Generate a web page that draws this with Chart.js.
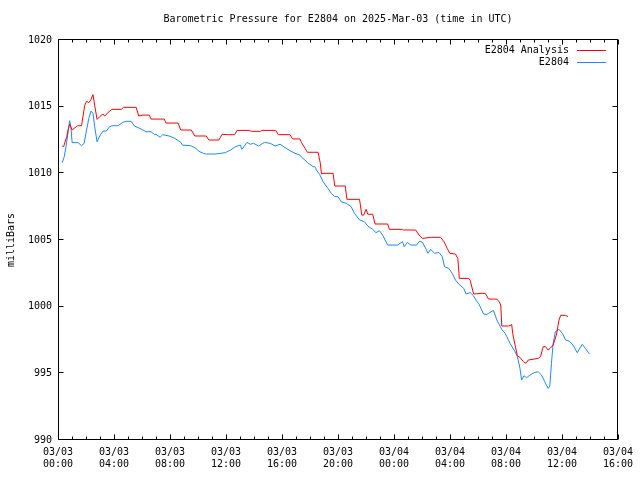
<!DOCTYPE html>
<html><head><meta charset="utf-8">
<script src="https://cdn.jsdelivr.net/npm/chart.js@4"></script>
<style>html,body{margin:0;padding:0;background:#fff}canvas{display:block}</style>
</head><body>
<canvas id="c" width="640" height="480"></canvas>
<script>
// hours since 2025-03-03 00:00 UTC
const analysisHours = [0.30,0.40,0.62,0.73,0.83,1.01,1.40,1.68,1.91,2.04,2.20,2.34,2.50,2.62,2.79,2.98,3.21,3.33,3.57,3.85,4.52,4.68,5.58,5.77,6.05,6.52,6.65,7.59,7.71,8.58,8.77,9.52,9.77,10.59,10.78,11.49,11.72,12.13,12.62,12.79,13.69,13.81,14.47,14.56,15.55,15.74,16.57,16.76,17.28,17.40,17.64,17.82,18.58,18.74,18.82,18.94,19.65,19.77,20.52,20.64,21.54,21.70,21.84,22.01,22.13,22.48,22.65,23.55,23.67,24.61,24.68,25.55,25.79,26.03,26.62,27.33,27.57,27.80,27.99,28.39,28.56,28.67,29.34,29.45,29.69,30.28,30.52,30.76,31.35,31.51,31.63,31.70,32.18,32.36,32.41,32.48,32.65,32.82,33.00,33.24,33.43,33.60,34.30,34.47,34.66,34.82,35.01,35.18,35.37,35.60,35.79,35.91,36.26,36.43];
const analysisValues = [1012.05,1012.0,1012.75,1013.3,1013.68,1013.25,1013.57,1013.57,1015.1,1015.4,1015.3,1015.5,1015.9,1015.1,1014.05,1014.25,1014.45,1014.3,1014.55,1014.8,1014.8,1014.95,1014.95,1014.3,1014.37,1014.37,1014.07,1014.07,1013.77,1013.77,1013.25,1013.25,1012.8,1012.8,1012.5,1012.5,1012.93,1012.9,1012.9,1013.22,1013.22,1013.15,1013.15,1013.22,1013.22,1012.9,1012.9,1012.58,1012.58,1012.3,1011.88,1011.58,1011.58,1010.75,1009.95,1010.0,1010.0,1009.05,1009.05,1008.05,1008.05,1006.87,1006.87,1007.3,1006.93,1006.93,1006.2,1006.2,1005.8,1005.8,1005.75,1005.75,1005.37,1005.12,1005.2,1005.2,1004.88,1004.38,1004.0,1003.95,1003.62,1002.12,1002.12,1001.95,1000.95,1001.0,1001.0,1000.57,1000.57,1000.37,1000.12,998.55,998.55,998.62,998.67,998.0,997.12,996.3,996.2,995.88,995.75,996.0,996.12,996.25,997.0,997.0,996.75,996.9,997.12,997.87,999.0,999.35,999.35,999.25];
const stationHours = [0.30,0.45,0.57,0.69,0.83,0.92,1.01,1.44,1.68,1.87,2.04,2.20,2.36,2.50,2.62,2.79,2.98,3.21,3.45,3.69,3.85,4.28,4.63,4.87,5.23,5.46,5.94,6.29,6.65,6.88,7.00,7.30,7.47,7.94,8.35,8.77,8.89,9.48,9.84,10.07,10.38,10.55,11.26,11.96,12.32,12.67,13.03,13.14,13.50,13.74,13.97,14.33,14.75,15.16,15.51,15.87,16.22,16.57,16.93,17.28,17.40,17.64,17.87,17.99,18.23,18.35,18.46,18.70,18.94,19.29,19.52,19.77,20.00,20.23,20.59,20.94,21.18,21.54,21.89,22.13,22.48,22.72,22.96,23.19,23.55,24.26,24.61,24.73,24.96,25.20,25.62,25.79,26.03,26.26,26.43,26.62,26.90,27.21,27.45,27.61,27.92,28.16,28.39,28.63,28.99,29.15,29.45,29.69,29.93,30.05,30.16,30.40,30.64,30.76,31.11,31.35,31.70,31.94,32.06,32.29,32.65,32.82,33.00,33.12,33.28,33.47,33.71,34.06,34.30,34.54,34.77,35.01,35.13,35.25,35.37,35.53,35.79,36.03,36.26,36.50,36.79,37.09,37.45,37.68,37.96];
const stationValues = [1010.8,1011.25,1012.0,1012.87,1013.95,1013.5,1012.3,1012.3,1012.07,1012.25,1013.25,1014.12,1014.67,1014.5,1013.5,1012.37,1012.8,1013.17,1013.17,1013.5,1013.57,1013.57,1013.82,1013.9,1013.9,1013.55,1013.32,1013.12,1013.12,1012.92,1012.92,1012.7,1012.9,1012.8,1012.62,1012.32,1012.12,1012.07,1011.88,1011.65,1011.5,1011.45,1011.45,1011.55,1011.75,1012.0,1012.12,1011.8,1012.32,1012.18,1012.25,1012.05,1012.32,1012.25,1012.05,1012.18,1011.93,1011.7,1011.5,1011.37,1011.2,1011.0,1010.75,1010.68,1010.5,1010.5,1010.25,1009.9,1009.37,1008.85,1008.5,1008.25,1008.25,1007.87,1007.75,1007.5,1007.0,1006.5,1006.37,1006.05,1005.8,1005.55,1005.7,1005.37,1004.62,1004.62,1004.88,1004.5,1004.82,1004.62,1004.62,1004.88,1004.85,1004.37,1004.0,1004.3,1004.0,1004.07,1003.75,1003.0,1002.87,1002.5,1002.0,1001.7,1001.37,1000.95,1001.05,1000.8,1000.37,1000.25,1000.0,999.45,999.42,999.5,999.72,999.0,998.3,998.0,997.75,997.25,996.62,996.25,995.37,994.5,994.82,994.67,994.87,995.07,995.12,994.87,994.37,993.87,994.05,995.75,997.25,998.12,998.3,998.0,997.5,997.42,997.12,996.55,997.18,996.87,996.45];
const xTickDates = ["03/03","03/03","03/03","03/03","03/03","03/03","03/04","03/04","03/04","03/04","03/04"];
const xTickTimes = ["00:00","04:00","08:00","12:00","16:00","20:00","00:00","04:00","08:00","12:00","16:00"];
const yTickValues = [990,995,1000,1005,1010,1015,1020];
const seriesLabels = ["E2804 Analysis","E2804"];
const seriesColors = ["#ff0000","#1a88ff"];
const titleText = "Barometric Pressure for E2804 on 2025-Mar-03 (time in UTC)";
const yAxisTitle = "milliBars";

const FONT = "'DejaVu Sans Mono', 'Liberation Mono', monospace";
const FS = 10;
const toPts = (xs, ys) => xs.map((x, i) => ({x: x, y: ys[i]}));

const frameAndTicks = {
  id: 'frameAndTicks',
  afterDraw(chart) {
    const ctx = chart.ctx, a = chart.chartArea;
    const xs = chart.scales.x, ys = chart.scales.y;
    ctx.save();
    ctx.strokeStyle = '#000';
    ctx.lineWidth = 1;
    ctx.beginPath();
    ctx.rect(Math.round(a.left) + 0.5, Math.round(a.top) - 0.5, Math.round(a.right - a.left) - 1, Math.round(a.bottom - a.top));
    for (let h = xs.min; h <= xs.max; h += 1) {
      const px = Math.round(xs.getPixelForValue(h)) + 0.5;
      const len = (h % 4 === 0) ? 5 : 3;
      ctx.moveTo(px, a.bottom - 0.5); ctx.lineTo(px, a.bottom - 0.5 - len);
      ctx.moveTo(px, a.top - 0.5); ctx.lineTo(px, a.top - 0.5 + len);
    }
    yTickValues.forEach(v => {
      const py = Math.round(ys.getPixelForValue(v)) - 0.5;
      ctx.moveTo(a.left + 0.5, py); ctx.lineTo(a.left + 0.5 + 5, py);
      ctx.moveTo(a.right - 0.5, py); ctx.lineTo(a.right - 0.5 - 5, py);
    });
    ctx.stroke();
    // legend inside the plot, top-right
    ctx.font = FS + "px " + FONT;
    ctx.fillStyle = '#000';
    ctx.textAlign = 'right';
    ctx.textBaseline = 'middle';
    chart.data.datasets.forEach((ds, i) => {
      const y = 50 + i * 12;
      ctx.fillText(ds.label, a.right - 49, y);
      ctx.strokeStyle = ds.borderColor;
      ctx.beginPath();
      ctx.moveTo(a.right - 41, y + 0.5);
      ctx.lineTo(a.right - 12, y + 0.5);
      ctx.stroke();
    });
    ctx.restore();
  }
};

new Chart(document.getElementById('c'), {
  type: 'line',
  data: {
    datasets: [
      {label: seriesLabels[0], data: toPts(analysisHours, analysisValues), borderColor: seriesColors[0], backgroundColor: seriesColors[0], borderWidth: 1, pointRadius: 0, tension: 0, fill: false},
      {label: seriesLabels[1], data: toPts(stationHours, stationValues), borderColor: seriesColors[1], backgroundColor: seriesColors[1], borderWidth: 1, pointRadius: 0, tension: 0, fill: false}
    ]
  },
  options: {
    responsive: false,
    animation: false,
    devicePixelRatio: 1,
    layout: {padding: {left: 0, right: 18, top: 0, bottom: 0}},
    plugins: {
      legend: {display: false},
      tooltip: {enabled: false},
      title: {
        display: true, text: titleText, fullSize: false, color: '#000',
        font: {family: FONT, size: FS, weight: 'normal', lineHeight: 1.2},
        padding: {top: 13, bottom: 15}
      }
    },
    scales: {
      x: {
        type: 'linear', min: 0, max: 40,
        afterFit: s => { s.height = 40; },
        afterBuildTicks: s => { s.ticks = xTickTimes.map((t, i) => ({value: i * 4})); },
        ticks: {
          autoSkip: false, maxRotation: 0, color: '#000', padding: 7,
          font: {family: FONT, size: FS, lineHeight: 1.15},
          callback: (v) => { const i = Math.round(v / 4); return [xTickDates[i], xTickTimes[i]]; }
        },
        grid: {display: true, drawOnChartArea: false, drawTicks: false},
        border: {display: false}
      },
      y: {
        type: 'linear', min: 990, max: 1020,
        afterFit: s => { s.width = 58; },
        afterBuildTicks: s => { s.ticks = yTickValues.map(v => ({value: v})); },
        ticks: {color: '#000', padding: 6, font: {family: FONT, size: FS}, callback: v => String(v)},
        grid: {display: true, drawOnChartArea: false, drawTicks: false},
        border: {display: false},
        title: {display: true, text: yAxisTitle, color: '#000', font: {family: FONT, size: FS}, padding: {top: 5, bottom: 0}}
      }
    }
  },
  plugins: [frameAndTicks]
});
</script>
</body></html>
